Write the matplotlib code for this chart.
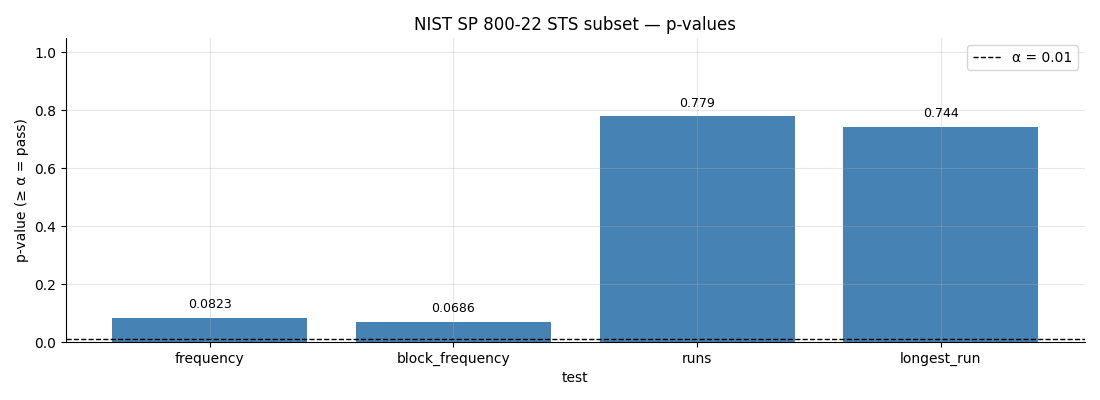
import matplotlib
matplotlib.use("Agg")
import matplotlib.pyplot as plt

tests = ["frequency", "block_frequency", "runs", "longest_run"]
p_values = [0.0823, 0.0686, 0.779, 0.744]
alpha = 0.01

fig, ax = plt.subplots(figsize=(11, 4), dpi=100)
fig.subplots_adjust(left=0.06, right=0.986, top=0.905, bottom=0.145)

bars = ax.bar(tests, p_values, color="steelblue", width=0.8)
ax.axhline(alpha, color="black", linestyle="--", linewidth=1, label="α = 0.01")

for b, v in zip(bars, p_values):
    ax.annotate("{:.3g}".format(v), (b.get_x() + b.get_width() / 2, b.get_height()),
                xytext=(0, 5), textcoords="offset points",
                ha="center", va="bottom", fontsize=9)

ax.set_ylim(0, 1.05)
ax.set_title("NIST SP 800-22 STS subset — p-values")
ax.set_xlabel("test")
ax.set_ylabel("p-value (≥ α = pass)")
ax.grid(True, alpha=0.3)
ax.spines["top"].set_visible(False)
ax.spines["right"].set_visible(False)
ax.legend(loc="upper right")

fig.savefig("out.png")
